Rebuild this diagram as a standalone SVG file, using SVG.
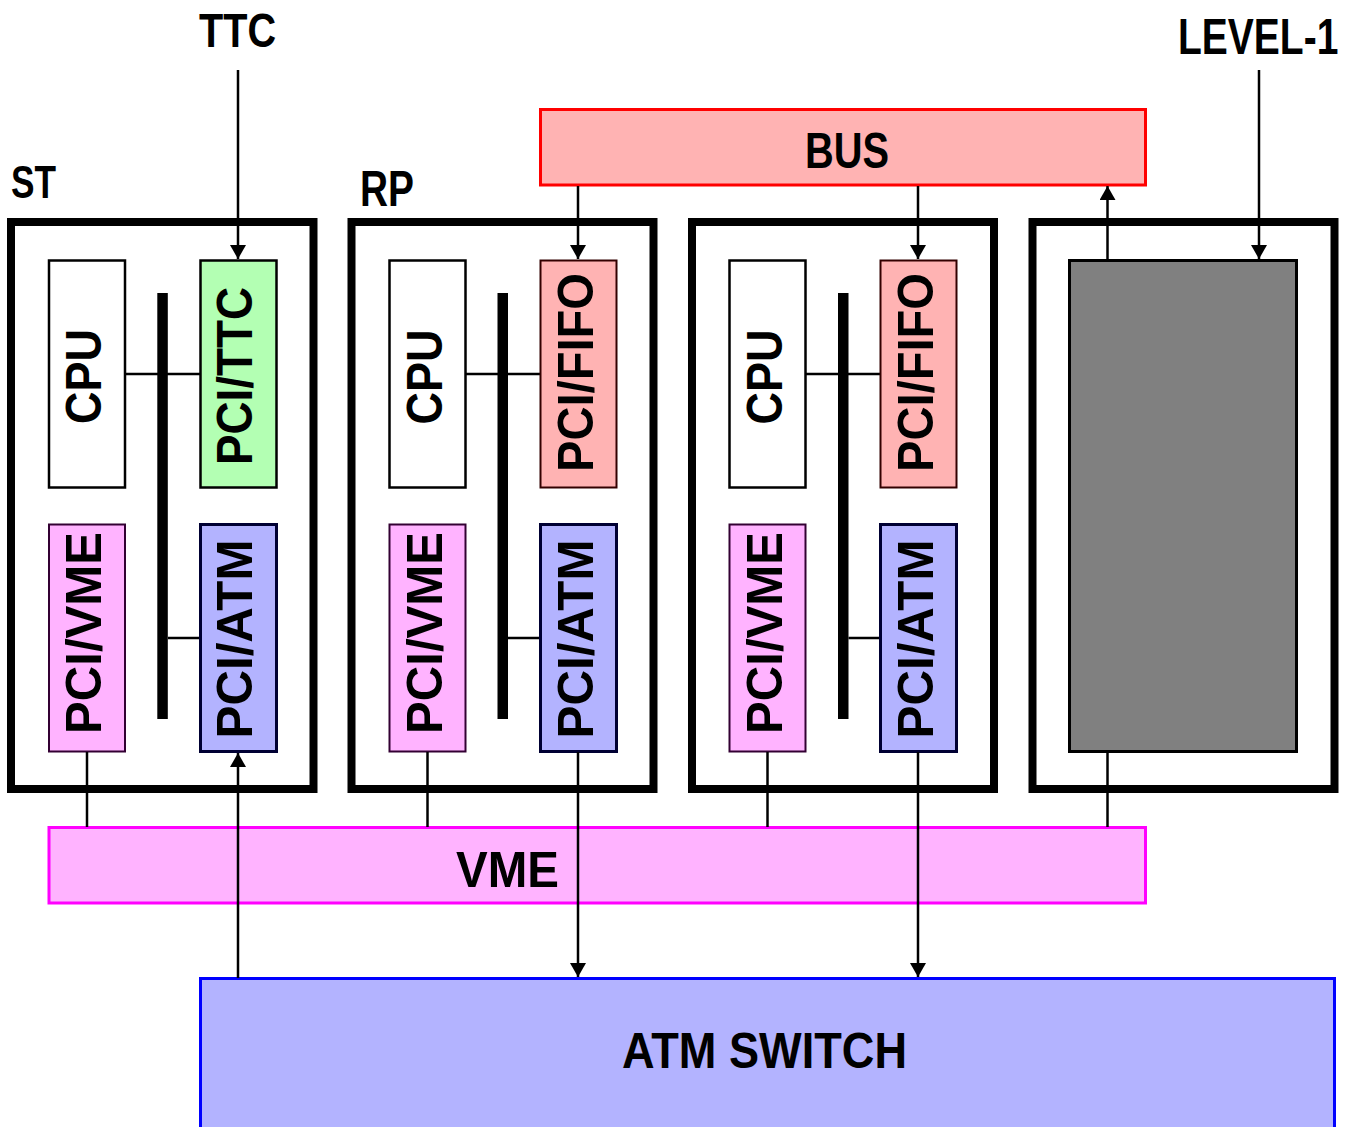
<svg xmlns="http://www.w3.org/2000/svg" width="1353" height="1127" viewBox="0 0 1353 1127">
<defs>
<style>
text{font-family:"Liberation Sans",Arial,sans-serif;font-weight:bold;fill:#000;}
.lbl{font-size:50px;}
.rt{font-size:50px;text-anchor:middle;}
.crate{fill:none;stroke:#000;stroke-width:8;}
.cpu{fill:#fff;stroke:#000;stroke-width:2.5;}
.ttc{fill:#b3ffb3;stroke:#000;stroke-width:2.5;}
.fifo{fill:#ffb3b3;stroke:#330000;stroke-width:2;}
.pvme{fill:#ffb3ff;stroke:#330033;stroke-width:2;}
.patm{fill:#b3b3ff;stroke:#000033;stroke-width:3;}
.bar{fill:#000;}
.wire{stroke:#000;stroke-width:2.5;fill:none;}
.arr{stroke:#000;stroke-width:2.5;fill:none;marker-end:url(#ah);}
</style>
<marker id="ah" markerUnits="userSpaceOnUse" markerWidth="14" markerHeight="16" refX="14" refY="8" orient="auto">
<path d="M0,0 L14,8 L0,16 z" fill="#000"/>
</marker>
</defs>
<rect width="1353" height="1127" fill="#fff"/>

<g id="labels">
<text class="lbl" x="199" y="46.5" textLength="77" lengthAdjust="spacingAndGlyphs" style="font-size:48px">TTC</text>
<text class="lbl" x="11" y="198" textLength="45" lengthAdjust="spacingAndGlyphs" style="font-size:46px">ST</text>
<text class="lbl" x="360" y="205.5" textLength="54" lengthAdjust="spacingAndGlyphs">RP</text>
<text class="lbl" x="0" y="0" transform="translate(1178,54) scale(0.78,1)">LEVEL-1</text>
</g>

<g id="bus">
<rect x="540.5" y="109.5" width="605" height="75.5" fill="#ffb3b3" stroke="#ff0000" stroke-width="3"/>
<text class="lbl" x="805" y="168" textLength="84" lengthAdjust="spacingAndGlyphs">BUS</text>
</g>

<g id="vme">
<rect x="49" y="827.5" width="1096.5" height="75.5" fill="#ffb3ff" stroke="#ff00ff" stroke-width="3"/>
<text class="lbl" x="456" y="887" textLength="103" lengthAdjust="spacingAndGlyphs">VME</text>
</g>

<g id="atm-switch">
<rect x="200.5" y="978.5" width="1134" height="170" fill="#b3b3ff" stroke="#0000ff" stroke-width="3"/>
<text class="lbl" x="622" y="1068" textLength="285" lengthAdjust="spacingAndGlyphs">ATM SWITCH</text>
</g>

<g id="crate-st">
<rect class="crate" x="11" y="222" width="302.5" height="567"/>
<rect class="bar" x="157.3" y="293" width="10.5" height="426"/>
<line class="wire" x1="125" y1="374" x2="200" y2="374"/>
<line class="wire" x1="168" y1="638" x2="200" y2="638"/>
<g id="st-cpu"><rect class="cpu" x="49" y="260.5" width="76" height="227"/>
<text class="rt" transform="translate(101,376.5) rotate(-90)" textLength="95" lengthAdjust="spacingAndGlyphs">CPU</text></g>
<g id="st-ttc"><rect class="ttc" x="200.5" y="260.5" width="76" height="227"/>
<text class="rt" transform="translate(252,376) rotate(-90)" textLength="178" lengthAdjust="spacingAndGlyphs">PCI/TTC</text></g>
<g id="st-vme"><rect class="pvme" x="49" y="524.5" width="76" height="227"/>
<text class="rt" transform="translate(101,633) rotate(-90)" textLength="202" lengthAdjust="spacingAndGlyphs">PCI/VME</text></g>
<g id="st-atm"><rect class="patm" x="200.5" y="524.5" width="76" height="227"/>
<text class="rt" transform="translate(252,639) rotate(-90)" textLength="199" lengthAdjust="spacingAndGlyphs">PCI/ATM</text></g>
</g>

<g id="crate-rp1">
<rect class="crate" x="351.5" y="222" width="302" height="567"/>
<rect class="bar" x="497.5" y="293" width="10.5" height="426"/>
<line class="wire" x1="465.5" y1="374" x2="540.5" y2="374"/>
<line class="wire" x1="508" y1="638" x2="540.5" y2="638"/>
<g id="rp1-cpu"><rect class="cpu" x="389.5" y="260.5" width="76" height="227"/>
<text class="rt" transform="translate(442,377) rotate(-90)" textLength="95" lengthAdjust="spacingAndGlyphs">CPU</text></g>
<g id="rp1-fifo"><rect class="fifo" x="540.5" y="260.5" width="76" height="227"/>
<text class="rt" transform="translate(593,372.5) rotate(-90)" textLength="199" lengthAdjust="spacingAndGlyphs">PCI/FIFO</text></g>
<g id="rp1-vme"><rect class="pvme" x="389.5" y="524.5" width="76" height="227"/>
<text class="rt" transform="translate(441.5,633) rotate(-90)" textLength="202" lengthAdjust="spacingAndGlyphs">PCI/VME</text></g>
<g id="rp1-atm"><rect class="patm" x="540.5" y="524.5" width="76" height="227"/>
<text class="rt" transform="translate(592.5,639) rotate(-90)" textLength="199" lengthAdjust="spacingAndGlyphs">PCI/ATM</text></g>
</g>

<g id="crate-rp2">
<rect class="crate" x="692" y="222" width="302" height="567"/>
<rect class="bar" x="838" y="293" width="10.5" height="426"/>
<line class="wire" x1="806" y1="374" x2="881" y2="374"/>
<line class="wire" x1="848.5" y1="638" x2="881" y2="638"/>
<g id="rp2-cpu"><rect class="cpu" x="729.5" y="260.5" width="76" height="227"/>
<text class="rt" transform="translate(782,377) rotate(-90)" textLength="95" lengthAdjust="spacingAndGlyphs">CPU</text></g>
<g id="rp2-fifo"><rect class="fifo" x="880.5" y="260.5" width="76" height="227"/>
<text class="rt" transform="translate(933,372.5) rotate(-90)" textLength="199" lengthAdjust="spacingAndGlyphs">PCI/FIFO</text></g>
<g id="rp2-vme"><rect class="pvme" x="729.5" y="524.5" width="76" height="227"/>
<text class="rt" transform="translate(781.5,633) rotate(-90)" textLength="202" lengthAdjust="spacingAndGlyphs">PCI/VME</text></g>
<g id="rp2-atm"><rect class="patm" x="880.5" y="524.5" width="76" height="227"/>
<text class="rt" transform="translate(932.5,639) rotate(-90)" textLength="199" lengthAdjust="spacingAndGlyphs">PCI/ATM</text></g>
</g>

<g id="crate-l1">
<rect class="crate" x="1032.5" y="222" width="302" height="567"/>
<rect id="l1-box" x="1069.5" y="260.5" width="227" height="491" fill="#808080" stroke="#000" stroke-width="3"/>
</g>

<g id="connectors">
<line class="arr" x1="238" y1="70" x2="238" y2="259"/>
<line class="arr" x1="578" y1="186" x2="578" y2="259"/>
<line class="arr" x1="918" y1="186" x2="918" y2="259"/>
<line class="arr" x1="1259" y1="70" x2="1259" y2="259"/>
<line class="arr" x1="1107.5" y1="259" x2="1107.5" y2="186"/>
<line class="wire" x1="87" y1="752" x2="87" y2="827"/>
<line class="wire" x1="427.5" y1="752" x2="427.5" y2="827"/>
<line class="wire" x1="767.5" y1="752" x2="767.5" y2="827"/>
<line class="wire" x1="1107.5" y1="752" x2="1107.5" y2="827"/>
<line class="arr" x1="238" y1="978" x2="238" y2="753"/>
<line class="arr" x1="578" y1="752" x2="578" y2="977"/>
<line class="arr" x1="918" y1="752" x2="918" y2="977"/>
</g>
</svg>
